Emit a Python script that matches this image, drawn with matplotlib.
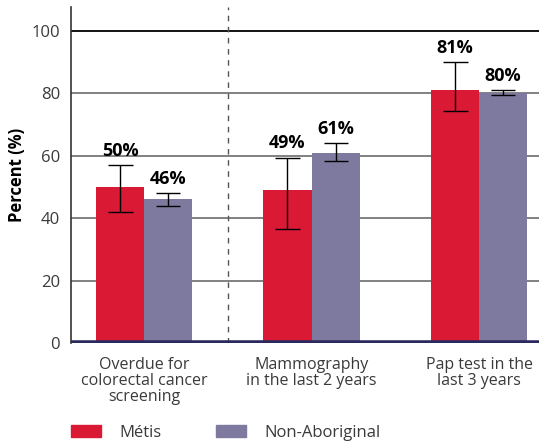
import numpy as np
import matplotlib
matplotlib.use('Agg')
from matplotlib import pyplot as plt
from matplotlib.patches import Patch

plt.rcParams['font.family'] = ['Open Sans', 'DejaVu Sans']

# data
categories = ['Overdue for\ncolorectal cancer\nscreening', 'Mammography\nin the last 2 years', 'Pap test in the\nlast 3 years']
metis = [50, 49, 81]
metis_lo = [42, 36.5, 74.5]
metis_hi = [57, 59.3, 90]
nonab = [46, 61, 80]
nonab_lo = [44, 58.3, 79.5]
nonab_hi = [48, 64, 81]
labels_metis = ['50%', '49%', '81%']
labels_nonab = ['46%', '61%', '80%']

red = '#DA1A35'
purple = '#7E7A9F'
navy = '#2A2A5E'
txt = '#3a3a3a'

fig = plt.figure(figsize=(5.39, 4.47), dpi=100)
ax = fig.add_axes([0.1317, 0.2327, 0.8683, 0.7517])

x = np.arange(len(categories))
w = 0.287

m_err = [np.array(metis) - np.array(metis_lo), np.array(metis_hi) - np.array(metis)]
n_err = [np.array(nonab) - np.array(nonab_lo), np.array(nonab_hi) - np.array(nonab)]

ax.bar(x - w/2, metis, w, color=red, zorder=2)
ax.bar(x + w/2, nonab, w, color=purple, zorder=2)
ax.errorbar(x - w/2, metis, yerr=m_err, fmt='none', ecolor='black', elinewidth=1, capsize=9, capthick=1, zorder=3)
ax.errorbar(x + w/2, nonab, yerr=n_err, fmt='none', ecolor='black', elinewidth=1, capsize=8.5, capthick=1, zorder=3)

for i in range(len(x)):
    ax.annotate(labels_metis[i], (x[i] - w/2, metis_hi[i]), xytext=(0, 4), textcoords='offset points',
                ha='center', va='bottom', fontsize=13, fontweight='bold', color='black')
    ax.annotate(labels_nonab[i], (x[i] + w/2, nonab_hi[i]), xytext=(0, 4), textcoords='offset points',
                ha='center', va='bottom', fontsize=13, fontweight='bold', color='black')

# grid lines
for yv in [20, 40, 60, 80]:
    ax.axhline(yv, color='#777777', lw=1.3, zorder=1)
ax.axhline(100, color='black', lw=1.3, zorder=1)
ax.axhline(0, color=navy, lw=4, zorder=4, solid_capstyle='butt')
ax.axvline(0.5, color='#555555', lw=1, ls=(0, (4, 4)), zorder=1)

ax.set_xlim(-0.436, 2.358)
ax.set_ylim(0, 107.7)
ax.set_yticks([0, 20, 40, 60, 80, 100])
ax.set_xticks(x)
ax.set_xticklabels(categories, fontsize=11.5, color=txt, linespacing=1.0)
ax.tick_params(axis='y', length=0, labelsize=12, labelcolor=txt, pad=8)
ax.tick_params(axis='x', length=0, pad=10)
ax.set_ylabel('Percent (%)', fontsize=12, fontweight='bold', color='black', labelpad=4)

for s in ['top', 'right', 'bottom']:
    ax.spines[s].set_visible(False)
ax.spines['left'].set_color('#333333')
ax.spines['left'].set_linewidth(1.2)

handles = [Patch(color=red, label='Métis'), Patch(color=purple, label='Non-Aboriginal')]
fig.legend(handles=handles, loc='center left', bbox_to_anchor=(0.1317, 0.031), ncol=2, frameon=False,
           fontsize=12, handlelength=1.8, handleheight=0.7, columnspacing=3.3, handletextpad=1.1,
           borderpad=0, borderaxespad=0, labelcolor=txt)

fig.savefig('out.png', dpi=100)
